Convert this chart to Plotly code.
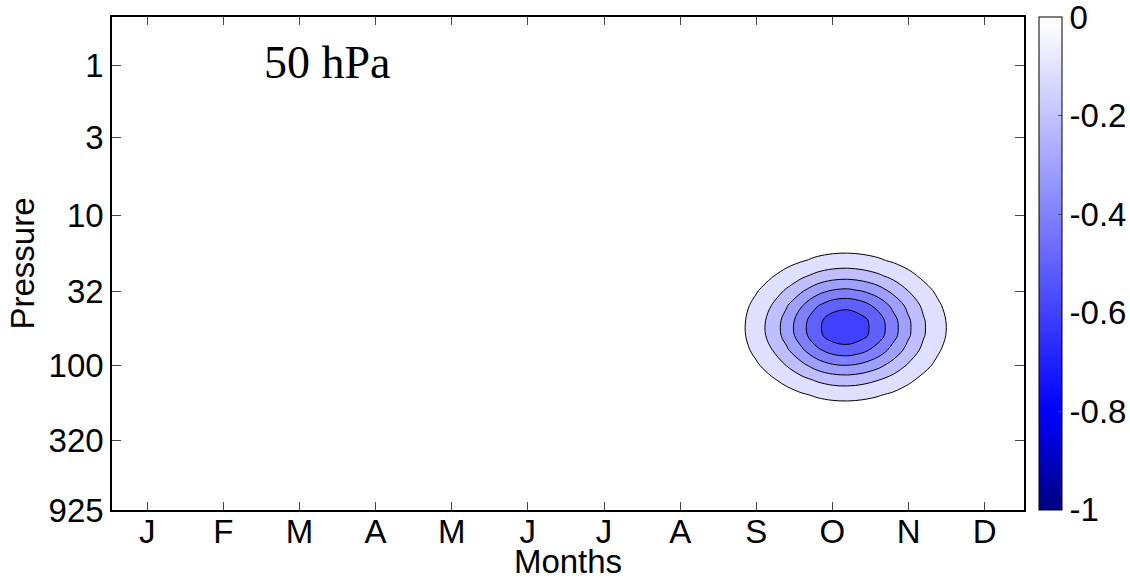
import numpy as np
import plotly.graph_objects as go

# Month axis
month_ticks = list(range(1, 13))
month_labels = ["J", "F", "M", "A", "M", "J", "J", "A", "S", "O", "N", "D"]

# Pressure axis (hPa, log scale, surface at the bottom)
pressure_ticks = [1, 3, 10, 32, 100, 320, 925]
pressure_labels = ["1", "3", "10", "32", "100", "320", "925"]

# Anomaly field: peak value and its shape along each axis through the centre
# (zero away from the disturbance, over the whole year and column)
anomaly_peak = -0.68
month_grid = [0.4, 8.4, 8.6, 8.8, 9.0, 9.2, 9.4, 9.6, 9.8, 10.0, 10.2,
              10.4, 10.6, 10.8, 11.0, 11.2, 11.4, 11.6, 11.8, 12.0, 12.6]
month_profile = [0.0, 0.03, 0.06, 0.12, 0.22, 0.35, 0.51, 0.69, 0.86, 0.97, 1.00,
                 0.94, 0.82, 0.65, 0.47, 0.31, 0.19, 0.10, 0.05, 0.02, 0.0]
pressure_grid = [0.4, 10, 12.6, 15.8, 20, 25.1, 31.6, 39.8, 50.1,
                 63.1, 79.4, 100, 126, 158, 200, 251, 316, 1000]
pressure_profile = [0.0, 0.01, 0.03, 0.09, 0.20, 0.38, 0.61, 0.84, 0.98,
                    0.98, 0.82, 0.59, 0.36, 0.19, 0.08, 0.03, 0.01, 0.0]

# Contour levels and colour bar ticks
levels = [-0.6, -0.5, -0.4, -0.3, -0.2, -0.1]
cbar_ticks = [0, -0.2, -0.4, -0.6, -0.8, -1]
cbar_labels = ["0", "-0.2", "-0.4", "-0.6", "-0.8", "-1"]

field = anomaly_peak * np.outer(pressure_profile, month_profile)

# white -> blue (at -0.8) -> navy (at -1)
cbar_scale = [[0.0, "#000080"], [0.2, "#0000FF"], [0.96, "#F6F6FF"], [1.0, "#FFFFFF"]]


def blue_at(v):
    t = min(1.0, abs(v) / 0.8)
    c = int(round(255 * (1 - t)))
    return f"rgb({c},{c},255)"


# Each band is painted with the colour of its upper level
step = levels[1] - levels[0]
n = len(levels)
fill_scale = [[0.0, blue_at(levels[0])]]
for k, lev in enumerate(levels[1:], start=1):
    fill_scale.append([k / n, blue_at(lev)])
fill_scale.append([1.0, "#FFFFFF"])

FONT = "Liberation Sans, Arial, sans-serif"

fig = go.Figure()
fig.add_trace(go.Contour(
    x=month_grid, y=pressure_grid, z=field,
    autocontour=False,
    contours=dict(start=levels[0], end=levels[-1], size=step,
                  coloring="fill", showlines=True),
    colorscale=fill_scale,
    line=dict(color="black", width=1),
    showscale=False,
    hoverinfo="skip",
))

# colour bar carrier
fig.add_trace(go.Scatter(
    x=[None, None], y=[None, None], mode="markers", showlegend=False,
    marker=dict(color=[-1, 0], cmin=-1.0005, cmax=0.0005, colorscale=cbar_scale,
                showscale=True,
                colorbar=dict(
                    x=1.0165, xanchor="left", xpad=0,
                    y=0.5, yanchor="middle", ypad=0,
                    len=1.0, lenmode="fraction",
                    thickness=23, thicknessmode="pixels",
                    outlinewidth=1, outlinecolor="black",
                    tickmode="array", tickvals=cbar_ticks, ticktext=cbar_labels,
                    ticks="inside", ticklen=4, tickcolor="#555",
                    ticklabeloverflow="allow",
                    tickfont=dict(family=FONT, size=33, color="black"),
                )),
))

fig.add_annotation(
    text="50 hPa", xref="paper", yref="paper", x=0.1645, y=0.907,
    xanchor="left", yanchor="middle", showarrow=False,
    font=dict(family="Liberation Serif, Times New Roman, serif", size=46, color="black"),
)

fig.update_xaxes(
    range=[0.538, 12.516],
    tickmode="array", tickvals=month_ticks, ticktext=month_labels,
    ticks="inside", ticklen=8, tickwidth=1, tickcolor="#444",
    ticklabelstandoff=-8,
    showline=True, linecolor="black", linewidth=1.5, mirror="ticks",
    showgrid=False, zeroline=False,
    tickfont=dict(family=FONT, size=33, color="black"),
    title=dict(text="Months", standoff=5,
               font=dict(family=FONT, size=33, color="black")),
)
fig.update_yaxes(
    type="log",
    range=[np.log10(925), -0.324],
    tickmode="array", tickvals=pressure_ticks, ticktext=pressure_labels,
    ticks="inside", ticklen=9, tickwidth=1, tickcolor="#444",
    showline=True, linecolor="black", linewidth=1.5, mirror="ticks",
    showgrid=False, zeroline=False,
    tickfont=dict(family=FONT, size=33, color="black"),
    title=dict(text="Pressure", standoff=4,
               font=dict(family=FONT, size=33, color="black")),
)

fig.update_layout(
    width=1130, height=580,
    margin=dict(l=112, r=106, t=17, b=70, autoexpand=False),
    paper_bgcolor="white", plot_bgcolor="white",
    showlegend=False,
)

fig.write_html("out.html")
